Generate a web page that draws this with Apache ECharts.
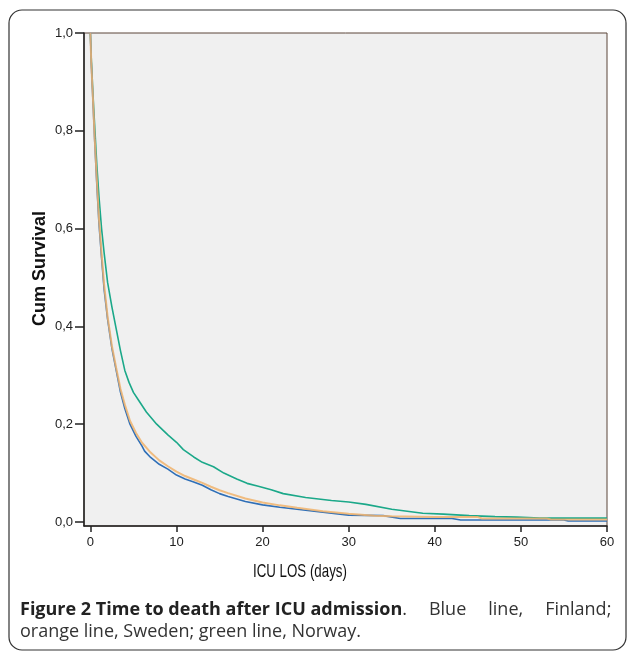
<!DOCTYPE html>
<html>
<head>
<meta charset="utf-8">
<title>Time to death after ICU admission</title>
<script src="https://cdn.jsdelivr.net/npm/echarts@6/dist/echarts.min.js"></script>
<style>
  html, body { margin: 0; padding: 0; background: #fff; }
  #chart { width: 628px; height: 652px; }
</style>
</head>
<body>
<div id="chart"></div>
<script>
  // [day, cumulative survival]
  const finland = [
    [0, 1.0], [0.1, 0.94], [0.3, 0.86], [0.5, 0.78], [0.75, 0.69], [1, 0.61], [1.3, 0.54],
    [1.6, 0.475], [2, 0.415], [2.5, 0.355], [3, 0.31], [3.5, 0.265], [4, 0.232], [4.6, 0.2],
    [5.3, 0.175], [6, 0.155], [6.3, 0.145], [7, 0.132], [8, 0.118], [9, 0.108], [10, 0.096],
    [11, 0.088], [12, 0.082], [13, 0.075], [14, 0.066], [15, 0.058], [16, 0.052], [18, 0.042],
    [20, 0.035], [22, 0.03], [25, 0.024], [28, 0.018], [30, 0.014], [34, 0.013], [36, 0.007],
    [42, 0.007], [43, 0.004], [55, 0.004], [55.5, 0.002], [60, 0.002]
  ]
  const sweden = [
    [0, 1.0], [0.1, 0.94], [0.3, 0.865], [0.5, 0.785], [0.75, 0.70], [1, 0.62], [1.3, 0.55],
    [1.6, 0.485], [2, 0.42], [2.5, 0.36], [3, 0.315], [3.5, 0.272], [4, 0.24], [4.6, 0.207],
    [5.3, 0.182], [6, 0.162], [7, 0.142], [8, 0.126], [9, 0.114], [10, 0.103], [11, 0.094],
    [12, 0.087], [13, 0.08], [14, 0.072], [15, 0.065], [16, 0.059], [18, 0.048], [20, 0.04],
    [22, 0.034], [24, 0.029], [27, 0.022], [30, 0.017], [33, 0.013], [35, 0.0117], [40, 0.01],
    [45, 0.01], [45.5, 0.007], [53, 0.007], [53.5, 0.005], [60, 0.005]
  ]
  const norway = [
    [0, 1.0], [0.1, 0.95], [0.3, 0.875], [0.5, 0.81], [0.75, 0.73], [1, 0.665], [1.3, 0.6],
    [1.6, 0.55], [2, 0.49], [2.5, 0.44], [3, 0.395], [3.5, 0.35], [4, 0.31], [4.5, 0.285],
    [5, 0.265], [5.6, 0.249], [6.5, 0.225], [7.7, 0.2], [9, 0.178], [10, 0.163], [10.8, 0.148],
    [12, 0.133], [13, 0.122], [14.3, 0.113], [15.5, 0.1], [17, 0.088], [18.2, 0.079],
    [19.5, 0.073], [21, 0.066], [22.4, 0.058], [25, 0.05], [28, 0.044], [30, 0.041], [32, 0.036],
    [35, 0.026], [38.6, 0.018], [41, 0.016], [44, 0.013], [47, 0.011], [49.5, 0.01],
    [52.2, 0.008], [60, 0.008]
  ]
  const xTicks = [0, 10, 20, 30, 40, 50, 60]
  const yTicks = [0, 0.2, 0.4, 0.6, 0.8, 1.0]
  const captionBold = "Figure 2 Time to death after ICU admission"
  const captionRest = [".", "Blue", "line,", "Finland;"]
  const captionLine2 = "orange line, Sweden; green line, Norway."

  const axisColor = "#222"

  // first caption line is justified: the spaces after the bold part are wider
  let line1 = "{b|" + captionBold + "}{n|" + captionRest[0] + "}"
    + captionRest.slice(1).map(w => "{s| }{n|" + w + "}").join("")

  let option = {
    animation: false,
    grid: {
      left: 84, top: 33, right: 21, bottom: 126,
      show: true, backgroundColor: "#f0f0f0", borderColor: "#5a4438", borderWidth: 1
    },
    xAxis: {
      type: "value",
      min: -0.74,
      max: 60,
      splitLine: {show: false},
      axisLine: {show: true, onZero: false, lineStyle: {color: axisColor, width: 1.5}},
      axisTick: {show: true, customValues: xTicks, length: 6, lineStyle: {color: axisColor, width: 1.5}},
      axisLabel: {
        customValues: xTicks, margin: 10,
        color: axisColor, fontFamily: "Liberation Sans", fontSize: 13
      }
    },
    yAxis: {
      type: "value",
      min: -0.0082,
      max: 1,
      splitLine: {show: false},
      axisLine: {show: true, onZero: false, lineStyle: {color: axisColor, width: 1.5}},
      axisTick: {show: true, customValues: yTicks, length: 9, lineStyle: {color: axisColor, width: 1.5}},
      axisLabel: {
        customValues: yTicks, margin: 11,
        color: axisColor, fontFamily: "Liberation Sans", fontSize: 13,
        formatter: v => v.toFixed(1).replace(".", ",")
      }
    },
    series: [
      {
        name: "Norway", type: "line", data: norway, showSymbol: false,
        lineStyle: {color: "#1ba889", width: 1.6}
      },
      {
        name: "Finland", type: "line", data: finland, showSymbol: false,
        lineStyle: {color: "#2f6fb7", width: 1.6}
      },
      {
        name: "Sweden", type: "line", data: sweden, showSymbol: false,
        lineStyle: {color: "#f0b36c", width: 2, opacity: 0.85}
      }
    ],
    graphic: [
      {
        type: "rect", silent: true,
        shape: {x: 9, y: 10, width: 617, height: 640, r: 13},
        style: {fill: "none", stroke: "#333", lineWidth: 1.2}
      },
      {
        type: "text", x: 253, y: 572, scaleX: 0.7,
        style: {text: "ICU LOS (days)", font: "19px 'Liberation Sans'", fill: "#111",
                textAlign: "left", textVerticalAlign: "middle"}
      },
      {
        type: "text", x: 40, y: 326, rotation: Math.PI / 2,
        style: {text: "Cum Survival", font: "bold 18px 'Liberation Sans'", fill: "#111",
                textAlign: "left", textVerticalAlign: "middle"}
      },
      {
        type: "text", left: 20, top: 601,
        style: {
          rich: {
            b: {font: "bold 18px 'Open Sans'", fill: "#222"},
            n: {font: "18px 'Open Sans'", fill: "#333"},
            s: {font: "18px 'Open Sans'", width: 22}
          },
          text: line1
        }
      },
      {
        type: "text", left: 20, top: 623,
        style: {text: captionLine2, font: "18px 'Open Sans'", fill: "#333"}
      }
    ]
  }

  let myChart = echarts.init(document.getElementById("chart"))
  myChart.setOption(option)
</script>
</body>
</html>
